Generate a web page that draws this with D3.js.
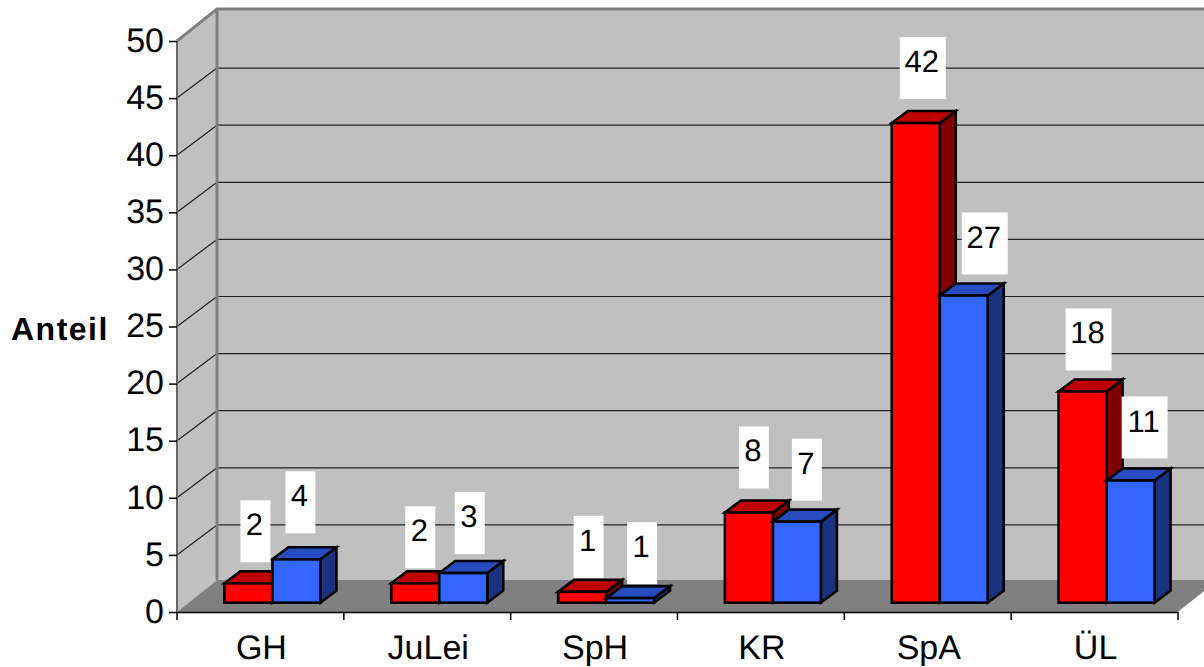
<!DOCTYPE html>
<html>

<head>
    <meta charset="utf-8">
    <style>
        body {
            margin: 0;
            background: white;
        }

        svg {
            display: block;
            font-family: "Liberation Sans", Arial, sans-serif;
            text-rendering: geometricPrecision;
        }

        .tick line {
            stroke: #000;
            stroke-width: 1.5;
        }
    </style>
</head>

<body>
    <svg width="1204" height="667"></svg>

    <script src="https://d3js.org/d3.v7.min.js"></script>
    <script>
        let categories = ["GH", "JuLei", "SpH", "KR", "SpA", "ÜL"]
        let seriesNames = ["a", "b"]

        // bar heights as measured on the axis
        let redValues = [1.7, 1.7, 0.95, 7.9, 42, 18.5]
        let blueValues = [3.8, 2.6, 0.4, 7.1, 26.9, 10.7]

        // numbers printed above the bars
        let redLabels = ["2", "2", "1", "8", "42", "18"]
        let blueLabels = ["4", "3", "1", "7", "27", "11"]

        let yTicks = [0, 5, 10, 15, 20, 25, 30, 35, 40, 45, 50]

        let width = 1204
        let height = 667

        let svg = d3.select("svg")

        let x0 = 177
        let x1 = 1178
        let y0 = 612
        let y1 = 41

        // how far the back wall sits behind the front of the floor
        let backDx = 40
        let backDy = 32
        let gridDy = 30

        // bars stand a bit inside the floor
        let barInsetX = 12
        let barInsetY = 9.3
        let depthX = 16
        let depthY = 12

        let xScale = d3.scaleBand()
            .domain(categories)
            .range([x0, x1])

        let barWidth = 48
        let xInner = d3.scaleBand()
            .domain(seriesNames)
            .range([-barWidth, barWidth])

        let yScale = d3.scaleLinear()
            .domain([0, 50])
            .range([y0, y1])

        function pts(list) {
            return list.map(p => p.join(",")).join(" ")
        }

        // side wall, back wall, floor
        svg.append("polygon")
            .attr("points", pts([[x0, y1], [x0 + backDx, y1 - backDy], [x0 + backDx, y0 - backDy], [x0, y0]]))
            .style("fill", "#c0c0c0")

        svg.append("rect")
            .attr("x", x0 + backDx)
            .attr("y", y1 - backDy)
            .attr("width", width - x0 - backDx + 5)
            .attr("height", y0 - y1)
            .style("fill", "#c0c0c0")

        svg.append("polygon")
            .attr("points", pts([[x0, y0], [x0 + backDx, y0 - backDy], [x1 + backDx, y0 - backDy], [x1, y0]]))
            .style("fill", "#808080")

        // white corner past the end of the floor
        svg.append("polygon")
            .attr("points", pts([[x1, y0], [x1 + backDx, y0 - backDy], [x1 + backDx, y0]]))
            .style("fill", "white")

        // gridlines on side wall and back wall
        let gridTicks = yTicks.filter(d => d > 0 && d < 50)

        svg.selectAll(".grid-side")
            .data(gridTicks)
            .join("line")
            .attr("class", "grid-side")
            .attr("x1", x0)
            .attr("y1", d => yScale(d))
            .attr("x2", x0 + backDx)
            .attr("y2", d => yScale(d) - gridDy)
            .style("stroke", "#222")
            .style("stroke-width", 1.2)

        svg.selectAll(".grid-back")
            .data(gridTicks)
            .join("line")
            .attr("class", "grid-back")
            .attr("x1", x0 + backDx)
            .attr("y1", d => yScale(d) - gridDy)
            .attr("x2", width)
            .attr("y2", d => yScale(d) - gridDy)
            .style("stroke", "#222")
            .style("stroke-width", 1.2)

        // wall edges
        svg.append("polyline")
            .attr("points", pts([[x0, y1], [x0 + backDx, y1 - backDy], [width, y1 - backDy]]))
            .style("fill", "none")
            .style("stroke", "#808080")
            .style("stroke-width", 3)

        svg.append("line")
            .attr("x1", x0 + backDx)
            .attr("y1", y1 - backDy)
            .attr("x2", x0 + backDx)
            .attr("y2", y0 - backDy)
            .style("stroke", "#808080")
            .style("stroke-width", 3)

        svg.append("line")
            .attr("x1", x0)
            .attr("y1", y1)
            .attr("x2", x0)
            .attr("y2", y0)
            .style("stroke", "#666")
            .style("stroke-width", 2)

        // axes
        let yAxis = d3.axisLeft(yScale)
            .tickValues(yTicks)
            .tickSize(8)
            .tickPadding(5)

        let yAxisG = svg.append("g")
            .attr("transform", `translate(${x0},0)`)
            .call(yAxis)

        yAxisG.select(".domain").remove()
        yAxisG.selectAll("text")
            .attr("dy", "0.3em")
            .style("font-family", "'Liberation Sans', Arial, sans-serif")
            .style("font-size", "34px")
            .style("fill", "#000")

        let xAxis = d3.axisBottom(xScale)
            .tickSizeOuter(0)
            .tickSize(0)
            .tickPadding(23)

        let xAxisG = svg.append("g")
            .attr("transform", `translate(0,${y0})`)
            .call(xAxis)

        xAxisG.select(".domain")
            .style("stroke", "#000")
            .style("stroke-width", 1.5)

        xAxisG.selectAll("text")
            .attr("dx", 1)
            .style("font-family", "'Liberation Sans', Arial, sans-serif")
            .style("font-size", "34px")
            .style("fill", "#000")

        // category separators
        xAxisG.selectAll(".sep")
            .data(categories.concat(["end"]))
            .join("line")
            .attr("class", "sep")
            .attr("x1", d => d == "end" ? x1 : xScale(d))
            .attr("x2", d => d == "end" ? x1 : xScale(d))
            .attr("y1", 0)
            .attr("y2", 8)
            .style("stroke", "#000")
            .style("stroke-width", 1.5)

        svg.append("text")
            .text("Anteil")
            .attr("x", 11)
            .attr("y", 340)
            .style("font-size", "32px")
            .style("font-weight", "bold")
            .style("letter-spacing", "1.5px")

        // bars
        let barData = []
        categories.forEach((c, i) => {
            barData.push({ cat: c, s: "a", v: redValues[i], label: redLabels[i], i: i, front: "#ff0000", top: "#bf0000", side: "#800000" })
            barData.push({ cat: c, s: "b", v: blueValues[i], label: blueLabels[i], i: i, front: "#3366ff", top: "#264cbf", side: "#1a3380" })
        })

        let barY0 = y0 - barInsetY

        function barLeft(d) {
            return xScale(d.cat) + xScale.bandwidth() / 2 + xInner(d.s) + barInsetX
        }

        function barTop(d) {
            return barY0 - (y0 - yScale(d.v))
        }

        let bars = svg.selectAll(".bar")
            .data(barData)
            .join("g")
            .attr("class", "bar")
            .style("stroke", "#000")
            .style("stroke-width", 2.6)
            .style("stroke-linejoin", "miter")

        bars.append("polygon")
            .attr("points", d => {
                let l = barLeft(d), r = l + xInner.bandwidth(), t = barTop(d)
                return pts([[r, t], [r + depthX, t - depthY], [r + depthX, barY0 - depthY], [r, barY0]])
            })
            .style("fill", d => d.side)

        bars.append("polygon")
            .attr("points", d => {
                let l = barLeft(d), r = l + xInner.bandwidth(), t = barTop(d)
                return pts([[l, t], [l + depthX, t - depthY], [r + depthX, t - depthY], [r, t]])
            })
            .style("fill", d => d.top)

        bars.append("rect")
            .attr("x", d => barLeft(d))
            .attr("y", d => barTop(d))
            .attr("width", xInner.bandwidth())
            .attr("height", d => barY0 - barTop(d))
            .style("fill", d => d.front)

        // label boxes, nudged by hand like the original chart: [dx from bar centre, gap above bar]
        let nudge = {
            "GH-a": [7, 21], "GH-b": [4, 26],
            "JuLei-a": [5, 15], "JuLei-b": [6.5, 19],
            "SpH-a": [6.5, 14], "SpH-b": [12, 14],
            "KR-a": [5, 24], "KR-b": [10, 21],
            "SpA-a": [7, 24], "SpA-b": [21, 21],
            "ÜL-a": [6, 21], "ÜL-b": [14, 22]
        }

        let boxH = 62

        let labels = svg.selectAll(".val")
            .data(barData)
            .join("g")
            .attr("class", "val")
            .attr("transform", d => {
                let n = nudge[d.cat + "-" + d.s]
                let cx = barLeft(d) + barWidth / 2 + n[0]
                let bottom = barTop(d) - n[1]
                return `translate(${cx},${bottom - boxH})`
            })

        labels.append("rect")
            .attr("x", d => d.label.length > 1 ? -23 : -15)
            .attr("width", d => d.label.length > 1 ? 46 : 30)
            .attr("height", boxH)
            .style("fill", "white")

        labels.append("text")
            .text(d => d.label)
            .attr("x", -1)
            .attr("y", 35)
            .attr("text-anchor", "middle")
            .style("font-size", "31px")
            .style("fill", "#000")
    </script>
</body>

</html>
